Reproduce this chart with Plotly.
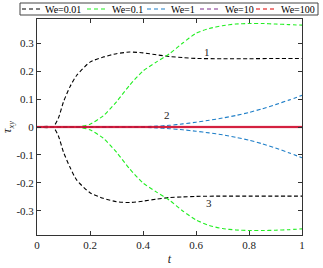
import plotly.graph_objects as go

# ---------------- data ----------------
labels = ["We=0.01", "We=0.1", "We=1", "We=10", "We=100"]
colors = ["#000000", "#22ee22", "#1f7fc8", "#7E2F8E", "#e00000"]

t_black = [0, 0.06, 0.08, 0.1, 0.125, 0.15, 0.2, 0.25, 0.3, 0.35, 0.4, 0.45, 0.5, 0.55, 0.6, 0.7, 0.8, 0.9, 1.0]
black_up = [0, 0, 0.03, 0.09, 0.145, 0.185, 0.232, 0.25, 0.262, 0.268, 0.265, 0.258, 0.252, 0.248, 0.245, 0.244, 0.244, 0.245, 0.245]
black_lo = [0, 0, -0.03, -0.09, -0.145, -0.19, -0.235, -0.255, -0.267, -0.27, -0.265, -0.258, -0.252, -0.25, -0.248, -0.247, -0.247, -0.247, -0.247]

t_green = [0, 0.15, 0.2, 0.25, 0.3, 0.35, 0.4, 0.45, 0.5, 0.55, 0.6, 0.65, 0.7, 0.75, 0.8, 0.85, 0.9, 0.95, 1.0]
green_up = [0, 0, 0.01, 0.04, 0.09, 0.15, 0.2, 0.232, 0.262, 0.3, 0.335, 0.352, 0.362, 0.368, 0.37, 0.37, 0.368, 0.366, 0.364]
green_lo = [0, 0, -0.01, -0.04, -0.09, -0.15, -0.2, -0.232, -0.262, -0.3, -0.332, -0.352, -0.363, -0.368, -0.37, -0.37, -0.369, -0.367, -0.364]

t_blue = [0, 0.35, 0.45, 0.5, 0.55, 0.6, 0.65, 0.7, 0.75, 0.8, 0.85, 0.9, 0.95, 1.0]
blue_up = [0, 0, 0.003, 0.006, 0.011, 0.017, 0.024, 0.032, 0.041, 0.052, 0.065, 0.08, 0.096, 0.113]
blue_lo = [0, 0, -0.003, -0.006, -0.01, -0.015, -0.021, -0.028, -0.037, -0.047, -0.06, -0.075, -0.092, -0.11]

t_flat = [0, 1.0]
flat = [0, 0]

curve_labels = ["1", "2", "3"]
label_t = [0.64, 0.49, 0.65]
label_v = [0.268, 0.043, -0.27]

xticks = [0, 0.2, 0.4, 0.6, 0.8, 1]
xticktext = ["0", "0.2", "0.4", "0.6", "0.8", "1"]
yticks = [-0.3, -0.2, -0.1, 0, 0.1, 0.2, 0.3]
yticktext = ["-0.3", "-0.2", "-0.1", "0", "0.1", "0.2", "0.3"]

FONT = "Liberation Serif, DejaVu Serif, serif"
DASH = "4px,2.5px"

fig = go.Figure()

series = [
    (t_black, black_up, black_lo, colors[0], DASH, 1.1),
    (t_green, green_up, green_lo, colors[1], DASH, 1.1),
    (t_blue, blue_up, blue_lo, colors[2], DASH, 1.1),
]
for tt, up, lo, c, d, w in series:
    for yy in (up, lo):
        fig.add_trace(go.Scatter(x=tt, y=yy, mode="lines", showlegend=False,
                                 line=dict(color=c, dash=d, width=w, shape="spline", smoothing=0.6),
                                 hoverinfo="skip"))
# zero lines (We=10 under We=100), with light pink halo
fig.add_trace(go.Scatter(x=t_flat, y=flat, mode="lines", showlegend=False,
                         line=dict(color="rgba(230,80,110,0.2)", width=3.5), hoverinfo="skip"))
fig.add_trace(go.Scatter(x=t_flat, y=flat, mode="lines", showlegend=False,
                         line=dict(color=colors[3], width=1), hoverinfo="skip"))
fig.add_trace(go.Scatter(x=t_flat, y=flat, mode="lines", showlegend=False,
                         line=dict(color="#dd0018", width=1.4), hoverinfo="skip"))

for txt, tx, vy in zip(curve_labels, label_t, label_v):
    fig.add_annotation(x=tx, y=vy, text=txt, showarrow=False,
                       font=dict(family=FONT, size=11, color="#222"))

# custom legend (paper coordinates)
L, R, T, B = 20, 318, 3, 15
px0, pw, py0, ph = 37, 265, 235, 216
def px(x):
    return (x - px0) / pw
def py(y):
    return (py0 - y) / ph
fig.add_shape(type="rect", xref="paper", yref="paper", x0=px(L), x1=px(R), y0=py(B), y1=py(T),
              line=dict(color="#444", width=1), fillcolor="white", layer="above")
seg_x = [(22, 42, 43), (87, 108, 110), (147, 167, 169), (200, 220, 223), (256, 277, 279)]
for (a, b, tx), lab, c in zip(seg_x, labels, colors):
    fig.add_shape(type="line", xref="paper", yref="paper", x0=px(a), x1=px(b), y0=py(9), y1=py(9),
                  line=dict(color=c, dash="4px,3px", width=1.2), layer="above")
    fig.add_annotation(xref="paper", yref="paper", x=px(tx), y=py(9), text=lab, showarrow=False,
                       xanchor="left", yanchor="middle", font=dict(family=FONT, size=10, color="black"))

axis_common = dict(showline=True, linecolor="#333", linewidth=1, mirror="ticks", ticks="inside",
                   ticklen=4, tickcolor="#333", showgrid=False, zeroline=False, automargin=False,
                   tickfont=dict(family=FONT, size=11, color="#222"))
fig.update_xaxes(range=[0, 1], tickvals=xticks, ticktext=xticktext,
                 title=dict(text="<i>t</i>", font=dict(family=FONT, size=12, color="#222"), standoff=4),
                 **axis_common)
fig.update_yaxes(range=[-0.386, 0.386], tickvals=yticks, ticktext=yticktext,
                 title=dict(text="<i>τ</i><sub><i>xy</i></sub>", font=dict(family=FONT, size=12, color="#222"), standoff=2),
                 **axis_common)

fig.update_layout(width=323, height=268, margin=dict(l=37, r=21, t=19, b=33),
                  plot_bgcolor="white", paper_bgcolor="white", showlegend=False,
                  font=dict(family=FONT))

fig.write_html("out.html", config={"displayModeBar": False},
               post_script="document.body.style.margin='0';")
